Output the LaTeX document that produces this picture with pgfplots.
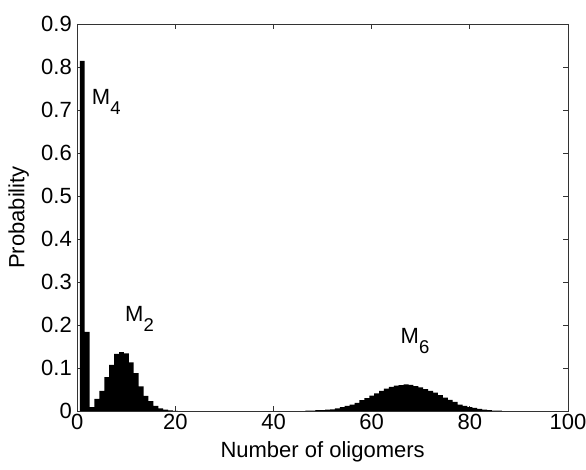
\documentclass[border=0pt]{standalone}
\usepackage{fontspec}
\setmainfont{Liberation Sans}
\usepackage{pgfplots}
\pgfplotsset{compat=1.18}
\newcommand{\fs}{\fontsize{22}{26}\selectfont}
\newcommand{\sub}[1]{\raisebox{-10pt}{\fontsize{18.5}{18.5}\selectfont #1}}

\begin{document}
\begin{tikzpicture}
\useasboundingbox (-77.3pt,-59pt) rectangle (508.7pt,411pt);
\begin{axis}[
  scale only axis, width=490.7pt, height=387pt,
  xmin=0, xmax=100, ymin=0, ymax=0.9,
  xtick={0,20,40,60,80,100},
  ytick={0,0.1,0.2,0.3,0.4,0.5,0.6,0.7,0.8,0.9},
  tick pos=both, tick align=inside, major tick length=5pt,
  axis line style={black!80, line width=0.8pt},
  every tick/.style={black!80, line width=0.8pt},
  tick label style={font=\fs},
  yticklabel style={/pgf/number format/fixed, /pgf/number format/precision=1, xshift=-2pt},
  /pgf/number format/assume math mode=true,
  label style={font=\fs},
  xlabel={Number of oligomers}, ylabel={Probability},
  xlabel style={at={(axis description cs:0.5,-0.119)}, anchor=base},
  ylabel style={at={(axis description cs:-0.108,0.5)}, anchor=base},
]
% M4 + M2 part
\addplot[ybar, bar width=1, fill=black, draw=none] coordinates {
  (1,0.814) (2,0.184) (3,0.009) (4,0.028) (5,0.047) (6,0.079)
  (7,0.107) (8,0.133) (9,0.137) (10,0.134) (11,0.113) (12,0.088)
  (13,0.057) (14,0.035) (15,0.023) (16,0.012) (17,0.006) (18,0.003)
  (19,0.0015) (20,0.0005)
};
% M6 part
\addplot[ybar, bar width=1, fill=black, draw=none] coordinates {
  (47,0.001) (48,0.001) (49,0.002) (50,0.002) (51,0.003) (52,0.004)
  (53,0.006) (54,0.009) (55,0.012) (56,0.015) (57,0.019) (58,0.025)
  (59,0.030) (60,0.036) (61,0.041) (62,0.047) (63,0.052) (64,0.056)
  (65,0.059) (66,0.060) (67,0.062) (68,0.061) (69,0.058) (70,0.055)
  (71,0.051) (72,0.047) (73,0.043) (74,0.037) (75,0.031) (76,0.026)
  (77,0.021) (78,0.015) (79,0.012) (80,0.009) (81,0.007) (82,0.005)
  (83,0.003) (84,0.002) (85,0.001) (86,0.001)
};
\node[anchor=base west, inner sep=0, font=\fs] at (axis cs:2.94,0.712) {M\sub{4}};
\node[anchor=base west, inner sep=0, font=\fs] at (axis cs:9.73,0.208) {M\sub{2}};
\node[anchor=base west, inner sep=0, font=\fs] at (axis cs:65.86,0.157) {M\sub{6}};
\end{axis}
\end{tikzpicture}
\end{document}
